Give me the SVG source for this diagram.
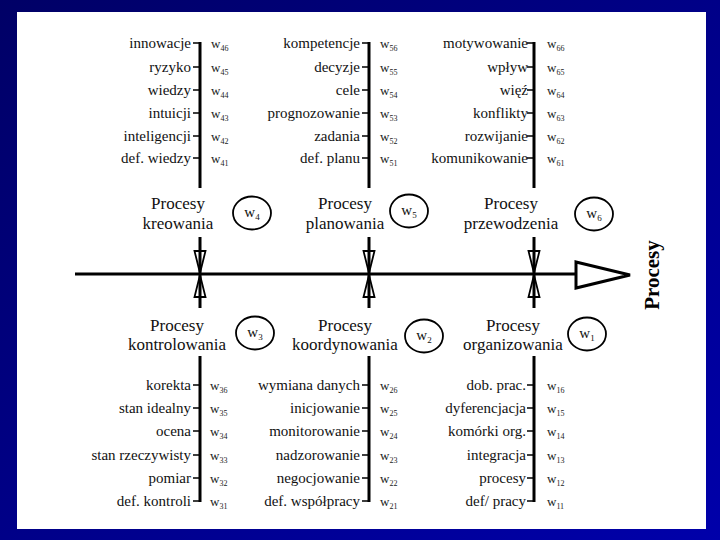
<svg xmlns="http://www.w3.org/2000/svg" width="720" height="540" viewBox="0 0 720 540">
<defs>
<linearGradient id="bg" x1="0" y1="0" x2="1" y2="1">
<stop offset="0" stop-color="#000066"/>
<stop offset="1" stop-color="#0000aa"/>
</linearGradient>
<style>
.ln{stroke:#000;stroke-width:3;fill:none}
.tk{stroke:#000;stroke-width:1.5;fill:none}
.tri{stroke:#000;stroke-width:1.8;fill:none;stroke-linejoin:miter}
.cir{stroke:#000;stroke-width:1.8;fill:#fff}
.lbl{font-family:"Liberation Serif",serif;font-size:15px;fill:#111;text-anchor:end}
.w{font-family:"Liberation Serif",serif;font-size:13px;fill:#222}
.sub{font-size:8px}
.ttl{font-family:"Liberation Serif",serif;font-size:17px;fill:#111;text-anchor:middle}
.cw{font-family:"Liberation Serif",serif;font-size:15px;fill:#111;text-anchor:middle}
.ax{font-family:"Liberation Serif",serif;font-size:21px;font-weight:bold;fill:#000;text-anchor:middle}
</style>
</defs>
<rect x="0" y="0" width="720" height="540" fill="url(#bg)"/>
<rect x="17" y="12" width="689" height="517" fill="#fff"/>

<g id="connectors">
<line class="ln" x1="75" y1="274" x2="577" y2="274"/>
<polygon class="ln" points="576,262 630,275 576,288"/>
<!-- column verticals -->
<path class="ln" d="M200,42V188M200,237V308M200,356V502"/>
<path class="ln" d="M369,42V188M369,237V308M369,356V502"/>
<path class="ln" d="M534,42V188M534,237V308M534,356V502"/>
<!-- junction arrows -->
<path class="tri" d="M194.5,251H205.5L200,273ZM194.5,297H205.5L200,275Z"/>
<path class="tri" d="M363.5,251H374.5L369,273ZM363.5,297H374.5L369,275Z"/>
<path class="tri" d="M528.5,251H539.5L534,273ZM528.5,297H539.5L534,275Z"/>
<!-- ticks -->
<path class="tk" d="M193,43H200M193,67H200M193,90H200M193,113H200M193,136H200M193,158H200"/>
<path class="tk" d="M362,43H369M362,67H369M362,90H369M362,113H369M362,136H369M362,158H369"/>
<path class="tk" d="M527,43H534M527,67H534M527,90H534M527,113H534M527,136H534M527,158H534"/>
<path class="tk" d="M193,385H200M193,408H200M193,431H200M193,455H200M193,478H200M193,501H200"/>
<path class="tk" d="M362,385H369M362,408H369M362,431H369M362,455H369M362,478H369M362,501H369"/>
<path class="tk" d="M527,385H534M527,408H534M527,431H534M527,455H534M527,478H534M527,501H534"/>
</g>

<g id="axis-label">
<text class="ax" transform="translate(659,275) rotate(-90)">Procesy</text>
</g>

<g id="kreowanie">
<text class="ttl" x="178" y="209">Procesy</text>
<text class="ttl" x="178" y="229">kreowania</text>
<g class="lbl">
<text x="191" y="48">innowacje</text>
<text x="191" y="72">ryzyko</text>
<text x="191" y="95">wiedzy</text>
<text x="191" y="118">intuicji</text>
<text x="191" y="141">inteligencji</text>
<text x="191" y="163">def. wiedzy</text>
</g>
<g class="w">
<text x="211" y="48">w<tspan class="sub" dy="3">46</tspan></text>
<text x="211" y="72">w<tspan class="sub" dy="3">45</tspan></text>
<text x="211" y="95">w<tspan class="sub" dy="3">44</tspan></text>
<text x="211" y="118">w<tspan class="sub" dy="3">43</tspan></text>
<text x="211" y="141">w<tspan class="sub" dy="3">42</tspan></text>
<text x="211" y="163">w<tspan class="sub" dy="3">41</tspan></text>
</g>
</g>
<g id="w4">
<ellipse class="cir" cx="252" cy="213" rx="19" ry="16.5"/>
<text class="cw" x="252" y="217">w<tspan font-size="9" dy="3">4</tspan></text>
</g>

<g id="planowanie">
<text class="ttl" x="345" y="209">Procesy</text>
<text class="ttl" x="345" y="229">planowania</text>
<g class="lbl">
<text x="360" y="48">kompetencje</text>
<text x="360" y="72">decyzje</text>
<text x="360" y="95">cele</text>
<text x="360" y="118">prognozowanie</text>
<text x="360" y="141">zadania</text>
<text x="360" y="163">def. planu</text>
</g>
<g class="w">
<text x="380" y="48">w<tspan class="sub" dy="3">56</tspan></text>
<text x="380" y="72">w<tspan class="sub" dy="3">55</tspan></text>
<text x="380" y="95">w<tspan class="sub" dy="3">54</tspan></text>
<text x="380" y="118">w<tspan class="sub" dy="3">53</tspan></text>
<text x="380" y="141">w<tspan class="sub" dy="3">52</tspan></text>
<text x="380" y="163">w<tspan class="sub" dy="3">51</tspan></text>
</g>
</g>
<g id="w5">
<ellipse class="cir" cx="409" cy="211" rx="19" ry="16.5"/>
<text class="cw" x="409" y="215">w<tspan font-size="9" dy="3">5</tspan></text>
</g>

<g id="przewodzenie">
<text class="ttl" x="511" y="209">Procesy</text>
<text class="ttl" x="511" y="229">przewodzenia</text>
<g class="lbl">
<text x="528" y="48">motywowanie</text>
<text x="528" y="72">wpływ</text>
<text x="528" y="95">więź</text>
<text x="528" y="118">konflikty</text>
<text x="528" y="141">rozwijanie</text>
<text x="528" y="163">komunikowanie</text>
</g>
<g class="w">
<text x="547" y="48">w<tspan class="sub" dy="3">66</tspan></text>
<text x="547" y="72">w<tspan class="sub" dy="3">65</tspan></text>
<text x="547" y="95">w<tspan class="sub" dy="3">64</tspan></text>
<text x="547" y="118">w<tspan class="sub" dy="3">63</tspan></text>
<text x="547" y="141">w<tspan class="sub" dy="3">62</tspan></text>
<text x="547" y="163">w<tspan class="sub" dy="3">61</tspan></text>
</g>
</g>
<g id="w6">
<ellipse class="cir" cx="594" cy="214" rx="19" ry="16.5"/>
<text class="cw" x="594" y="218">w<tspan font-size="9" dy="3">6</tspan></text>
</g>

<g id="kontrolowanie">
<text class="ttl" x="177" y="331">Procesy</text>
<text class="ttl" x="177" y="350">kontrolowania</text>
<g class="lbl">
<text x="191" y="390">korekta</text>
<text x="191" y="413">stan idealny</text>
<text x="191" y="436">ocena</text>
<text x="191" y="460">stan rzeczywisty</text>
<text x="191" y="483">pomiar</text>
<text x="191" y="506">def. kontroli</text>
</g>
<g class="w">
<text x="210" y="390">w<tspan class="sub" dy="3">36</tspan></text>
<text x="210" y="413">w<tspan class="sub" dy="3">35</tspan></text>
<text x="210" y="436">w<tspan class="sub" dy="3">34</tspan></text>
<text x="210" y="460">w<tspan class="sub" dy="3">33</tspan></text>
<text x="210" y="483">w<tspan class="sub" dy="3">32</tspan></text>
<text x="210" y="506">w<tspan class="sub" dy="3">31</tspan></text>
</g>
</g>
<g id="w3">
<ellipse class="cir" cx="255" cy="333" rx="19" ry="16.5"/>
<text class="cw" x="255" y="337">w<tspan font-size="9" dy="3">3</tspan></text>
</g>

<g id="koordynowanie">
<text class="ttl" x="345" y="331">Procesy</text>
<text class="ttl" x="345" y="350">koordynowania</text>
<g class="lbl">
<text x="360" y="390">wymiana danych</text>
<text x="360" y="413">inicjowanie</text>
<text x="360" y="436">monitorowanie</text>
<text x="360" y="460">nadzorowanie</text>
<text x="360" y="483">negocjowanie</text>
<text x="360" y="506">def. współpracy</text>
</g>
<g class="w">
<text x="380" y="390">w<tspan class="sub" dy="3">26</tspan></text>
<text x="380" y="413">w<tspan class="sub" dy="3">25</tspan></text>
<text x="380" y="436">w<tspan class="sub" dy="3">24</tspan></text>
<text x="380" y="460">w<tspan class="sub" dy="3">23</tspan></text>
<text x="380" y="483">w<tspan class="sub" dy="3">22</tspan></text>
<text x="380" y="506">w<tspan class="sub" dy="3">21</tspan></text>
</g>
</g>
<g id="w2">
<ellipse class="cir" cx="424" cy="336" rx="19" ry="16.5"/>
<text class="cw" x="424" y="340">w<tspan font-size="9" dy="3">2</tspan></text>
</g>

<g id="organizowanie">
<text class="ttl" x="513" y="331">Procesy</text>
<text class="ttl" x="513" y="350">organizowania</text>
<g class="lbl">
<text x="526" y="390">dob. prac.</text>
<text x="526" y="413">dyferencjacja</text>
<text x="526" y="436">komórki org.</text>
<text x="526" y="460">integracja</text>
<text x="526" y="483">procesy</text>
<text x="526" y="506">def/ pracy</text>
</g>
<g class="w">
<text x="547" y="390">w<tspan class="sub" dy="3">16</tspan></text>
<text x="547" y="413">w<tspan class="sub" dy="3">15</tspan></text>
<text x="547" y="436">w<tspan class="sub" dy="3">14</tspan></text>
<text x="547" y="460">w<tspan class="sub" dy="3">13</tspan></text>
<text x="547" y="483">w<tspan class="sub" dy="3">12</tspan></text>
<text x="547" y="506">w<tspan class="sub" dy="3">11</tspan></text>
</g>
</g>
<g id="w1">
<ellipse class="cir" cx="587" cy="334" rx="19" ry="16.5"/>
<text class="cw" x="587" y="338">w<tspan font-size="9" dy="3">1</tspan></text>
</g>
</svg>
